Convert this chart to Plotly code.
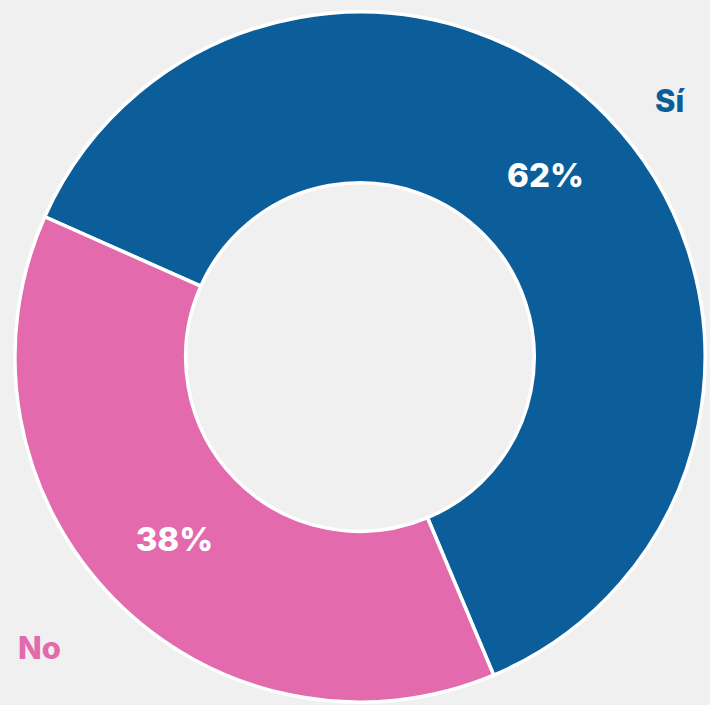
import plotly.graph_objects as go

labels = ['Sí', 'No']
values = [62, 38]
colors = ['#0b5e9a', '#e26aad']

fig = go.Figure()

fig.add_trace(go.Pie(
    labels=labels,
    values=values,
    hole=0.505,
    sort=False,
    direction='clockwise',
    rotation=-66,
    marker=dict(colors=colors, line=dict(color='white', width=3.5)),
    texttemplate='%{percent:.0%}',
    textposition='inside',
    insidetextorientation='horizontal',
    textfont=dict(family='Inter, Roboto, sans-serif', size=33, color='white', weight=800),
    domain=dict(x=[0.021, 0.993], y=[0.004, 0.983]),
    showlegend=False,
    hoverinfo='label+percent'
))

# outside category labels
fig.add_annotation(x=0.944, y=0.858, xref='paper', yref='paper', text='Sí',
                   xanchor='center', yanchor='middle', showarrow=False,
                   font=dict(family='Inter, Roboto, sans-serif', size=31, color=colors[0], weight=800))
fig.add_annotation(x=0.055, y=0.081, xref='paper', yref='paper', text='No',
                   xanchor='center', yanchor='middle', showarrow=False,
                   font=dict(family='Inter, Roboto, sans-serif', size=31, color=colors[1], weight=800))

fig.update_layout(
    width=710, height=705,
    margin=dict(l=0, r=0, t=0, b=0),
    paper_bgcolor='#f1f0f0',
    plot_bgcolor='#f1f0f0'
)

fig.write_html("out.html", config={'displayModeBar': False},
               post_script="document.body.style.margin='0';document.body.style.background='#f1f0f0';")
